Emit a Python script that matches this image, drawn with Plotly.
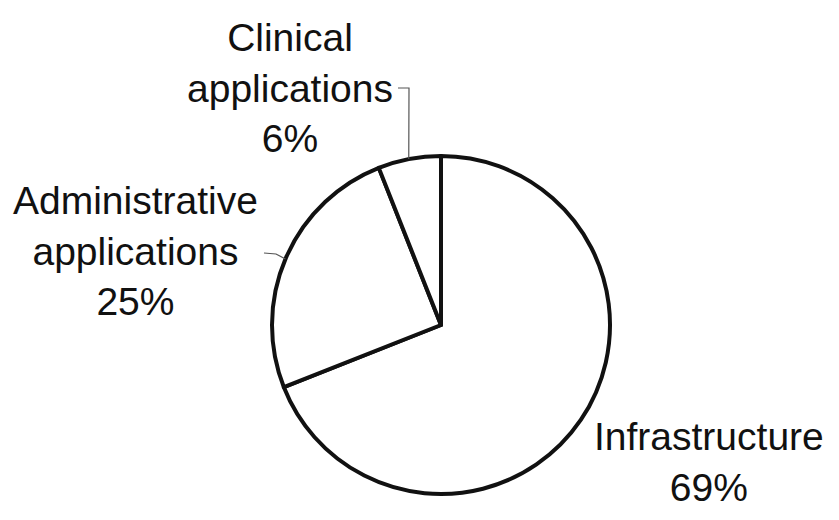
import math
import plotly.graph_objects as go

# Share of spending by category
labels = ["Infrastructure", "Administrative applications", "Clinical applications"]
values = [69, 25, 6]
label_lines = [["Infrastructure"], ["Administrative", "applications"], ["Clinical", "applications"]]

W, H = 839, 520
CX, CY, R = 441, 325, 169  # pie centre and radius in pixels

fig = go.Figure(
    go.Pie(
        labels=labels,
        values=values,
        sort=False,
        direction="clockwise",
        rotation=0,
        textinfo="none",
        hoverinfo="skip",
        marker=dict(colors=["white"] * 3, line=dict(color="#111111", width=4)),
        domain=dict(
            x=[(CX - R) / W, (CX + R) / W],
            y=[1 - (CY + R) / H, 1 - (CY - R) / H],
        ),
        showlegend=False,
    )
)


def px(x, y):
    return x / W, 1 - y / H


def rim(angle_deg):
    # point on the pie edge, angle measured clockwise from 12 o'clock
    a = math.radians(angle_deg)
    return CX + R * math.sin(a), CY - R * math.cos(a)


# label placements (pixel centre of each text block)
label_pos = [(709, 462), (135, 251), (290, 88)]
font = dict(family="Liberation Sans, Arial, sans-serif", size=39, color="#111111")
for lines, v, (x, y) in zip(label_lines, values, label_pos):
    ax, ay = px(x, y)
    fig.add_annotation(
        x=ax, y=ay, xref="paper", yref="paper",
        text="<br>".join(lines + [f"{v}%"]),
        showarrow=False, font=font, align="center",
        xanchor="center", yanchor="middle",
    )

# leader lines for the two small slices
leader_col = "#555555"
ex, ey = rim(349)
path_pts = [(398, 88), (409, 88), (ex, ey)]
fig.add_shape(
    type="path", xref="paper", yref="paper",
    path="M " + " L ".join(f"{px(a, b)[0]},{px(a, b)[1]}" for a, b in path_pts),
    line=dict(color=leader_col, width=1.2),
)
ex, ey = rim(293)
path_pts = [(264, 253), (276, 254), (ex, ey)]
fig.add_shape(
    type="path", xref="paper", yref="paper",
    path="M " + " L ".join(f"{px(a, b)[0]},{px(a, b)[1]}" for a, b in path_pts),
    line=dict(color=leader_col, width=1.2),
)

fig.update_layout(
    width=W, height=H,
    margin=dict(l=0, r=0, t=0, b=0),
    paper_bgcolor="white",
    plot_bgcolor="white",
)

fig.write_html("out.html")
